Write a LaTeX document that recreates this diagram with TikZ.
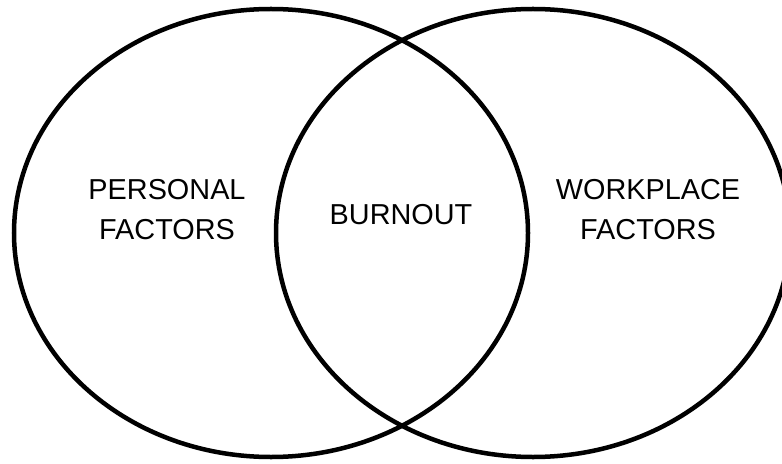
\documentclass[tikz,border=0pt]{standalone}
\usepackage{fontspec}
\setmainfont{Liberation Sans}
\begin{document}
\begin{tikzpicture}[x=0.01cm,y=-0.01cm,
  ring/.style={draw=black,line width=0.045cm},
  lbl/.style={font=\fontsize{8.2pt}{11.4pt}\selectfont,align=center,inner sep=0pt,text=black}]
\clip (0,0) rectangle (782,464);
\fill[white] (0,0) rectangle (782,464);
\draw[ring] (271,233) ellipse [x radius=257, y radius=224];
\draw[ring] (533,233) ellipse [x radius=257, y radius=224];
\node[lbl] (personal) at (167,210) {PERSONAL\\FACTORS};
\node[lbl] (burnout) at (401,215) {BURNOUT};
\node[lbl] (workplace) at (648,210) {WORKPLACE\\FACTORS};
\end{tikzpicture}
\end{document}
